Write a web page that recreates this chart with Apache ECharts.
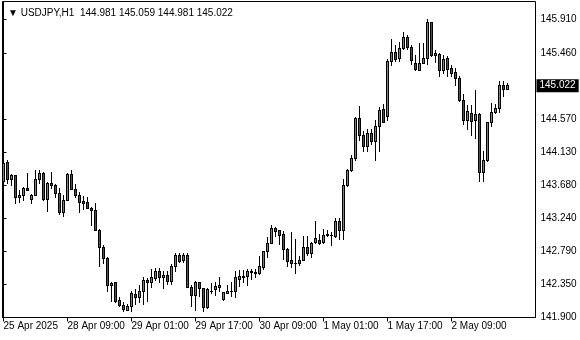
<!DOCTYPE html>
<html><head><meta charset="utf-8">
<script src="https://cdn.jsdelivr.net/npm/echarts@6/dist/echarts.min.js"></script>
<style>html,body{margin:0;padding:0;background:#fff}#c{width:580px;height:340px}</style>
</head><body><div id="c"></div><script>
const symbolName = 'USDJPY,H1';
const tickIndex = [0, 16, 32, 48, 64, 80, 96, 112];
const tickLabels = ['25 Apr 2025', '28 Apr 09:00', '29 Apr 01:00', '29 Apr 17:00', '30 Apr 09:00', '1 May 01:00', '1 May 17:00', '2 May 09:00'];
const priceTicks = [141.900, 142.350, 142.790, 143.240, 143.680, 144.130, 144.570, 145.460, 145.910];

const opens = [143.743,143.986,143.757,143.811,143.519,143.555,143.649,143.501,143.555,143.770,
143.851,143.488,143.710,143.683,143.578,143.313,143.484,143.835,143.632,143.548,
143.465,143.454,143.380,143.353,143.084,142.855,142.707,142.340,142.374,142.129,
142.071,142.005,142.061,142.219,142.173,142.250,142.411,142.374,142.434,142.532,
142.442,142.478,142.388,142.599,142.747,142.667,142.747,142.317,142.205,142.374,
142.299,142.048,142.257,142.286,142.308,142.151,142.227,142.259,142.254,142.421,
142.442,142.456,142.512,142.505,142.502,142.586,142.801,142.900,143.107,143.071,
143.017,142.824,142.667,142.640,142.636,142.676,142.846,142.765,142.913,142.945,
142.913,143.007,143.007,142.999,143.205,143.080,143.686,143.878,144.049,144.587,
144.362,144.214,144.385,144.272,144.483,144.708,144.609,145.345,145.479,145.389,
145.524,145.681,145.537,145.327,145.233,145.327,145.395,145.874,145.426,145.448,
145.224,145.389,145.260,145.201,145.125,144.829,144.564,144.654,144.564,144.641,
143.864,144.013,144.528,144.663,144.722,145.022,144.981];
const highs = [143.995,144.020,143.831,143.824,143.622,143.656,143.851,143.561,143.878,143.878,
143.864,143.723,143.864,143.703,143.636,143.542,143.851,143.878,143.703,143.595,
143.532,143.528,143.387,143.434,143.091,142.882,142.714,142.371,142.384,142.176,
142.106,142.075,142.254,142.277,142.340,142.442,142.434,142.555,142.563,142.563,
142.532,142.532,142.622,142.765,142.765,142.765,142.765,142.331,142.388,142.384,
142.299,142.299,142.367,142.374,142.442,142.243,142.331,142.374,142.519,142.542,
142.542,142.555,142.546,142.546,142.721,142.801,142.980,143.151,143.115,143.077,
143.061,142.835,143.044,142.950,142.734,142.990,143.003,142.913,143.192,143.026,
143.093,143.084,143.048,143.241,143.241,143.757,143.901,144.080,144.595,144.743,
144.403,144.430,144.439,144.551,144.730,144.776,145.372,145.650,145.560,145.605,
145.739,145.704,145.560,145.426,145.596,145.596,145.910,145.876,145.506,145.457,
145.426,145.416,145.291,145.260,145.143,144.901,144.753,144.753,144.955,144.645,
144.147,144.537,144.789,144.776,145.076,145.076,145.059];
const lows = [143.622,143.716,143.683,143.438,143.452,143.481,143.615,143.441,143.548,143.716,
143.481,143.333,143.642,143.515,143.299,143.272,143.481,143.629,143.528,143.320,
143.363,143.367,143.138,143.071,142.593,142.636,142.263,142.119,142.108,142.052,
141.985,142.001,141.985,142.075,142.115,142.075,142.119,142.308,142.407,142.374,
142.294,142.353,142.353,142.523,142.644,142.644,142.308,142.061,142.003,142.183,
141.981,142.030,142.227,142.205,142.263,142.142,142.227,142.196,142.173,142.320,
142.380,142.331,142.421,142.451,142.488,142.555,142.711,142.900,142.994,142.892,
142.690,142.599,142.577,142.501,142.613,142.667,142.747,142.711,142.905,142.892,
142.905,143.003,142.878,142.980,142.959,142.959,143.676,143.869,144.026,144.295,
144.147,144.147,144.237,144.026,144.138,144.524,144.560,145.291,145.345,145.358,
145.516,145.516,145.314,145.237,145.224,145.325,145.314,145.416,145.335,145.143,
145.193,145.147,145.147,145.031,144.807,144.506,144.439,144.362,144.318,143.730,
143.730,144.003,144.483,144.652,144.663,144.878,144.981];
const closes = [143.979,143.757,143.811,143.519,143.555,143.649,143.622,143.555,143.770,143.851,
143.488,143.710,143.683,143.578,143.313,143.484,143.835,143.632,143.551,143.452,
143.443,143.371,143.349,143.077,142.846,142.703,142.341,142.368,142.119,142.072,
142.017,142.059,142.227,142.173,142.250,142.407,142.374,142.451,142.532,142.442,
142.474,142.388,142.599,142.747,142.657,142.747,142.317,142.205,142.374,142.294,
142.048,142.286,142.263,142.321,142.344,142.240,142.263,142.263,142.442,142.456,
142.465,142.519,142.519,142.512,142.590,142.801,142.905,143.107,143.061,143.013,
142.824,142.657,142.636,142.636,142.680,142.846,142.765,142.905,142.972,142.905,
143.013,143.026,143.010,143.205,143.080,143.686,143.878,144.049,144.587,144.358,
144.205,144.385,144.272,144.483,144.695,144.528,145.345,145.479,145.381,145.529,
145.681,145.537,145.368,145.247,145.327,145.395,145.874,145.435,145.462,145.224,
145.381,145.247,145.187,145.125,144.833,144.564,144.672,144.541,144.641,143.864,
144.013,144.528,144.663,144.722,145.022,144.977,145.022];

const FONT = '"Liberation Sans", Arial, sans-serif';
const UP = '#32b432', DOWN = '#e01414';
const n = opens.length;
const last = n - 1;
const candles = opens.map((o, i) => [i, o, closes[i], lows[i], highs[i]]);
const header = '\u25BC ' + symbolName + '  ' + [opens[last], highs[last], lows[last], closes[last]].map(v => v.toFixed(3)).join(' ');

function renderCandle(params, api) {
  const i = api.value(0);
  const o = api.value(1), c = api.value(2), l = api.value(3), h = api.value(4);
  const pO = api.coord([i, o]);
  const pC = api.coord([i, c]);
  const yL = Math.round(api.coord([i, l])[1]);
  const yH = Math.round(api.coord([i, h])[1]);
  const bx = Math.floor(pO[0]) - 1;
  const top = Math.round(Math.min(pO[1], pC[1]));
  const bot = Math.round(Math.max(pO[1], pC[1]));
  const children = [
    {type: 'rect', z2: 1, shape: {x: bx + 1, y: yH, width: 1, height: Math.max(1, yL - yH + 1)}, style: {fill: '#000', stroke: null}},
    {type: 'rect', z2: 2, shape: {x: bx, y: top, width: 3, height: Math.max(1, bot - top + 1)}, style: {fill: '#000', stroke: null}}
  ];
  if (bot - top >= 2) {
    children.push({type: 'rect', z2: 3, shape: {x: bx + 1, y: top + 1, width: 1, height: bot - top - 1},
      style: {fill: c >= o ? UP : DOWN, stroke: null}});
  }
  return {type: 'group', children};
}

const chart = echarts.init(document.getElementById('c'), null, {renderer: 'canvas'});
chart.setOption({
  animation: false,
  backgroundColor: '#fff',
  title: {
    text: header, left: 3, top: 3,
    textStyle: {fontFamily: FONT, fontSize: 10, fontWeight: 'normal', color: '#000'}
  },
  grid: {
    left: 2.5, top: 1.5, width: 533, height: 316,
    show: true, borderColor: '#000', borderWidth: 1, backgroundColor: '#fff'
  },
  xAxis: {
    type: 'value', min: -0.25, max: 133,
    axisLine: {show: true, lineStyle: {color: '#000'}},
    splitLine: {show: false},
    axisTick: {show: true, customValues: tickIndex, length: 4, lineStyle: {color: '#000'}},
    axisLabel: {
      customValues: tickIndex, align: 'left', margin: 4,
      fontFamily: FONT, fontSize: 10, color: '#000',
      formatter: v => tickLabels[tickIndex.indexOf(Math.round(v))] || ''
    }
  },
  yAxis: {
    type: 'value', position: 'right', min: 141.900, max: 146.152, scale: true,
    axisLine: {show: true, lineStyle: {color: '#000'}},
    splitLine: {show: false},
    axisTick: {show: true, customValues: priceTicks, length: 3, lineStyle: {color: '#000'}},
    axisLabel: {
      customValues: priceTicks, margin: 5,
      fontFamily: FONT, fontSize: 10, color: '#000',
      formatter: v => v.toFixed(3)
    }
  },
  series: [{
    type: 'custom',
    data: candles,
    encode: {x: 0, y: [1, 2, 3, 4]},
    clip: false,
    renderItem: renderCandle,
    markLine: {
      silent: true, symbol: ['none', 'none'],
      lineStyle: {width: 0, color: 'rgba(0,0,0,0)', type: 'solid'},
      label: {
        show: true, position: 'end', distance: 1,
        formatter: () => closes[last].toFixed(3),
        backgroundColor: '#000', color: '#fff', padding: [2, 3, 1, 3],
        fontFamily: FONT, fontSize: 10
      },
      emphasis: {disabled: true},
      data: [{yAxis: closes[last]}]
    }
  }]
});
</script></body></html>
